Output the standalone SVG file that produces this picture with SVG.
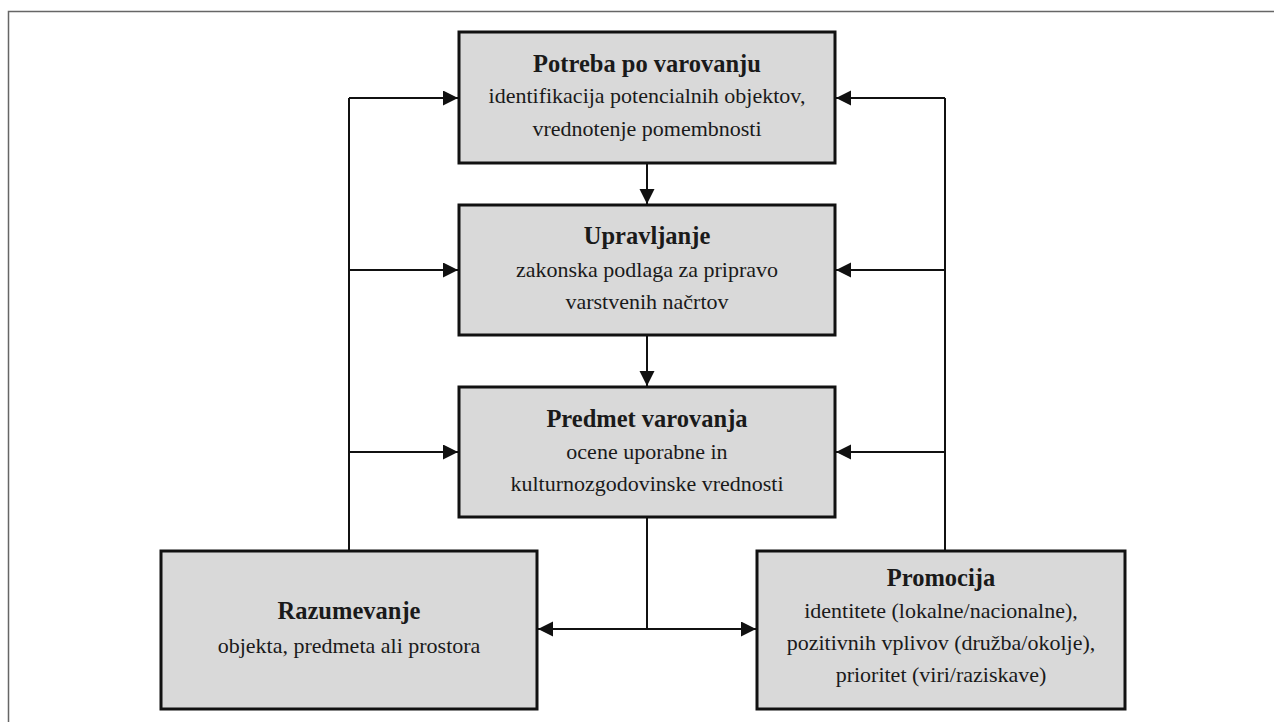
<svg xmlns="http://www.w3.org/2000/svg" width="1274" height="722" viewBox="0 0 1274 722">
  <style>
    .box { fill: #d9d9d9; stroke: #111; stroke-width: 3; }
    .conn { stroke: #111; stroke-width: 2; fill: none; }
    text { font-family: 'Liberation Serif', serif; font-size: 22px; fill: #1a1a1a; text-anchor: middle; }
    .b { font-weight: bold; font-size: 24.5px; }
  </style>
  <defs>
    <marker id="arr" markerUnits="userSpaceOnUse" markerWidth="16" markerHeight="16" refX="15" refY="7.5" orient="auto-start-reverse" viewBox="0 0 16 16">
      <path d="M0,0 L15,7.5 L0,15 z" fill="#111"/>
    </marker>
  </defs>
  <rect width="1274" height="722" fill="#fff"/>
  <path d="M8.5,722 V11.5 H1274" fill="none" stroke="#666" stroke-width="1.5"/>

  <g id="connectors">
    <path class="conn" d="M349,551 V98"/>
    <path class="conn" d="M349,98 H458" marker-end="url(#arr)"/>
    <path class="conn" d="M349,270 H458" marker-end="url(#arr)"/>
    <path class="conn" d="M349,452 H458" marker-end="url(#arr)"/>
    <path class="conn" d="M945,551 V98"/>
    <path class="conn" d="M945,98 H836" marker-end="url(#arr)"/>
    <path class="conn" d="M945,270 H836" marker-end="url(#arr)"/>
    <path class="conn" d="M945,452 H836" marker-end="url(#arr)"/>
    <path class="conn" d="M647,163 V204" marker-end="url(#arr)"/>
    <path class="conn" d="M647,335 V386" marker-end="url(#arr)"/>
    <path class="conn" d="M647,517 V629"/>
    <path class="conn" d="M538,629 H756" marker-start="url(#arr)" marker-end="url(#arr)"/>
  </g>

  <g font-family="Liberation Serif, serif">
  <g id="potreba">
    <rect class="box" x="459" y="32" width="376" height="131"/>
    <text class="b" x="647" y="72">Potreba po varovanju</text>
    <text x="647" y="103">identifikacija potencialnih objektov,</text>
    <text x="647" y="136">vrednotenje pomembnosti</text>
  </g>
  <g id="upravljanje">
    <rect class="box" x="459" y="205" width="376" height="130"/>
    <text class="b" x="647" y="244">Upravljanje</text>
    <text x="647" y="277">zakonska podlaga za pripravo</text>
    <text x="647" y="309">varstvenih načrtov</text>
  </g>
  <g id="predmet">
    <rect class="box" x="459" y="387" width="376" height="130"/>
    <text class="b" x="647" y="427">Predmet varovanja</text>
    <text x="647" y="459">ocene uporabne in</text>
    <text x="647" y="491">kulturnozgodovinske vrednosti</text>
  </g>
  <g id="razumevanje">
    <rect class="box" x="161" y="551" width="376" height="158"/>
    <text class="b" x="349" y="619">Razumevanje</text>
    <text x="349" y="653">objekta, predmeta ali prostora</text>
  </g>
  <g id="promocija">
    <rect class="box" x="757" y="551" width="368" height="158"/>
    <text class="b" x="941" y="586">Promocija</text>
    <text x="941" y="618">identitete (lokalne/nacionalne),</text>
    <text x="941" y="650">pozitivnih vplivov (družba/okolje),</text>
    <text x="941" y="682">prioritet (viri/raziskave)</text>
  </g>
  </g>
</svg>
